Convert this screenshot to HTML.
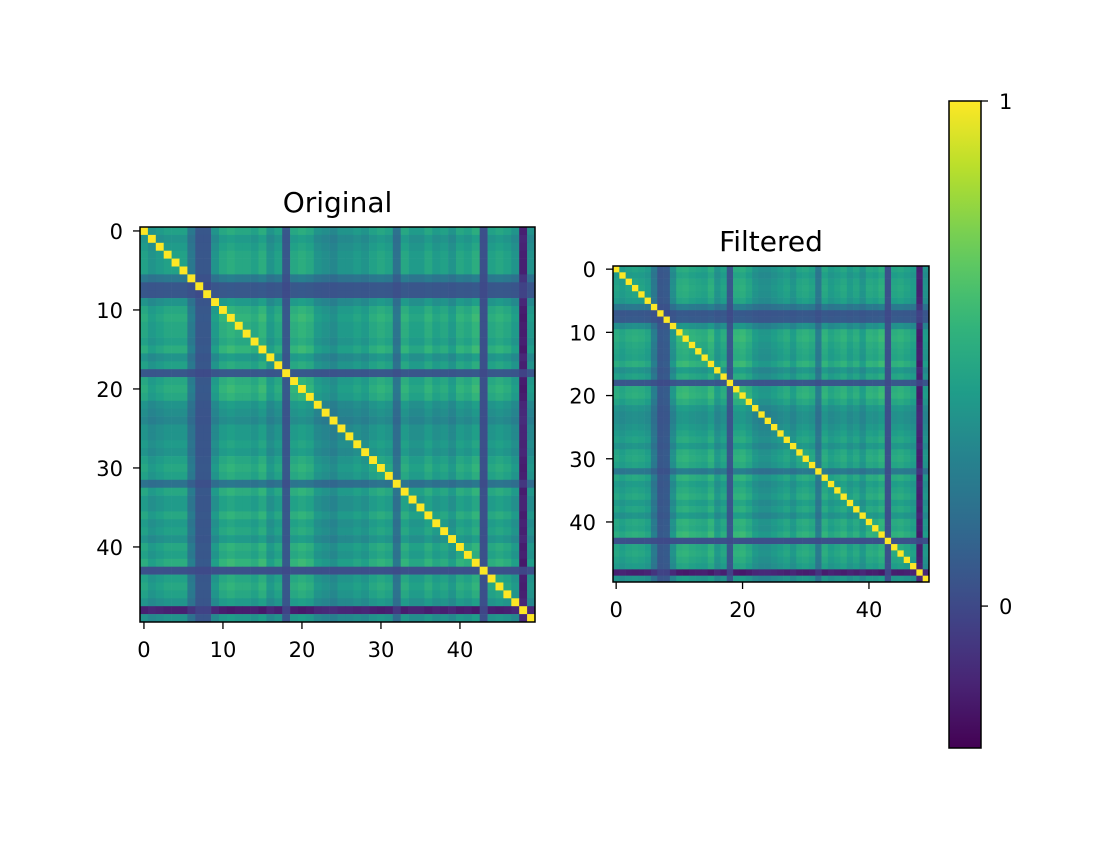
<!DOCTYPE html>
<html><head><meta charset="utf-8"><style>
html,body{margin:0;padding:0;background:#fff}
svg text{font-family:"DejaVu Sans","Liberation Sans",sans-serif;fill:#000}
</style></head><body>
<svg id="fig" width="1120" height="840" viewBox="0 0 1120 840" xmlns="http://www.w3.org/2000/svg">
<defs><linearGradient id="cbg" x1="0" y1="1" x2="0" y2="0"></linearGradient></defs>
<g id="orig"></g>
<g id="filt"></g>
<g id="cbar"></g>
</svg>
<script>
// per-variable loadings
const origLoadings=[0.67,0.57,0.62,0.67,0.67,0.67,0.35,0.1,0.1,0.57,0.72,0.77,0.72,0.72,0.67,0.77,0.57,0.67,0.1,0.72,0.77,0.72,0.57,0.52,0.47,0.57,0.57,0.62,0.57,0.67,0.72,0.67,0.3,0.72,0.62,0.62,0.72,0.62,0.67,0.57,0.72,0.67,0.77,0.05,0.67,0.72,0.67,0.57,-0.25,0.55];
const filtLoadings=[0.67,0.62,0.67,0.69,0.67,0.62,0.35,0.1,0.12,0.52,0.75,0.77,0.72,0.69,0.67,0.77,0.57,0.67,0.1,0.75,0.77,0.69,0.57,0.52,0.52,0.57,0.62,0.67,0.57,0.69,0.72,0.67,0.35,0.72,0.62,0.67,0.72,0.62,0.69,0.57,0.72,0.69,0.77,0.05,0.69,0.72,0.67,0.62,-0.25,0.55];
const xTicksOrig=[0,10,20,30,40];
const yTicksOrig=[0,10,20,30,40];
const xTicksFilt=[0,20,40];
const yTicksFilt=[0,10,20,30,40];
const cbarTicks=[1,0];
const vmin=-0.281, vmax=1;

const NS="http://www.w3.org/2000/svg";
const V=[[68,1,84],[72,40,120],[62,74,137],[49,104,142],[38,130,142],[31,158,137],[53,183,121],[109,205,89],[180,222,44],[253,231,37]];
function viridis(v){let t=(v-vmin)/(vmax-vmin);t=Math.max(0,Math.min(1,t));const f=t*(V.length-1);const i=Math.min(V.length-2,Math.floor(f));const r=f-i;const c=V[i].map((a,k)=>Math.round(a+(V[i+1][k]-a)*r));return `rgb(${c[0]},${c[1]},${c[2]})`;}
function mk(tag,attrs,parent){const e=document.createElementNS(NS,tag);for(const k in attrs)e.setAttribute(k,attrs[k]);parent.appendChild(e);return e;}

function heatmap(g,load,x0,y0,size,title,xt,yt,prefix){
  const n=load.length,c=size/n;
  const sx=i=>x0+i*c, sy=j=>y0+j*c;
  for(let i=0;i<n;i++)for(let j=0;j<n;j++){
    const v=i===j?1:load[i]*load[j];
    const r=mk('rect',{x:sx(j),y:sy(i),width:c+0.3,height:c+0.3,fill:viridis(v)},g);
    
    
  }
  const fr=mk('rect',{x:x0,y:y0,width:size,height:size,fill:'none',stroke:'#000','stroke-width':1.5},g);
  
  for(const t of xt){const x=sx(t+0.5);
    const l=mk('line',{x1:x,x2:x,y1:y0+size,y2:y0+size+7,stroke:'#000','stroke-width':1.3},g);
    const tx=mk('text',{x:x,y:y0+size+35,'text-anchor':'middle','font-size':'21'},g);tx.textContent=t;}
  for(const t of yt){const y=sy(t+0.5);
    const l=mk('line',{x1:x0-7,x2:x0,y1:y,y2:y,stroke:'#000','stroke-width':1.3},g);
    const tx=mk('text',{x:x0-17,y:y+8,'text-anchor':'end','font-size':'21'},g);tx.textContent=t;}
  const tt=mk('text',{x:x0+size/2,y:y0-15,'text-anchor':'middle','font-size':'28'},g);tt.textContent=title;
  
}
heatmap(document.getElementById('orig'),origLoadings,140,227,395,'Original',xTicksOrig,yTicksOrig,'original');
heatmap(document.getElementById('filt'),filtLoadings,613,266,316,'Filtered',xTicksFilt,yTicksFilt,'filtered');

// colorbar
const cb=document.getElementById('cbar');
const cx=949,cy0=101,cy1=748,cw=32;
const cys=v=>cy1-(v-vmin)/(vmax-vmin)*(cy1-cy0);
const grad=document.getElementById('cbg');
for(let k=0;k<=20;k++){const v=vmin+(vmax-vmin)*k/20;mk('stop',{offset:(k/20),'stop-color':viridis(v)},grad);}
const cr=mk('rect',{x:cx,y:cy0,width:cw,height:cy1-cy0,fill:'url(#cbg)',stroke:'#000','stroke-width':1.5},cb);

for(const t of cbarTicks){const y=cys(t);
  const l=mk('line',{x1:cx+cw,x2:cx+cw+7,y1:y,y2:y,stroke:'#000','stroke-width':1.3},cb);
  const tx=mk('text',{x:cx+cw+18,y:y+8,'font-size':'21'},cb);tx.textContent=t;}
</script>
</body></html>
